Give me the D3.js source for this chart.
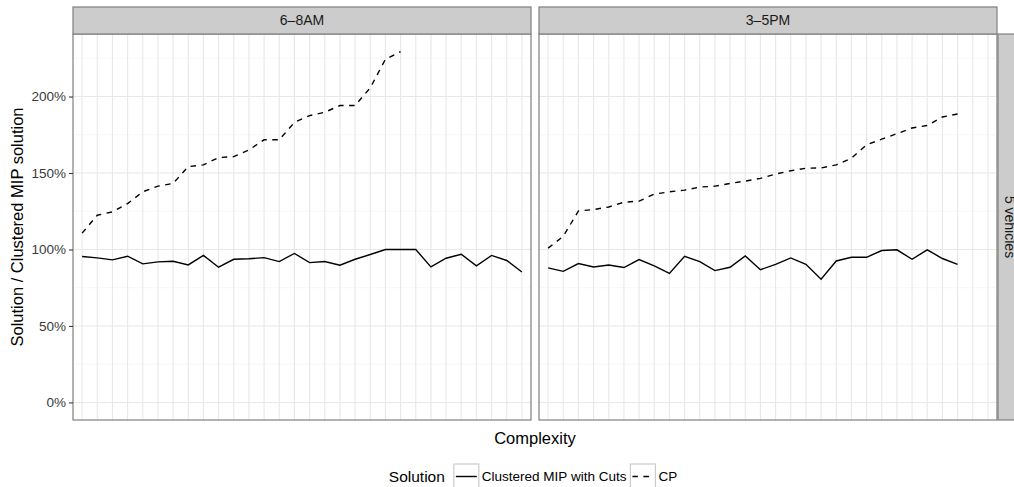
<!DOCTYPE html>
<html>
<head>
<meta charset="utf-8">
<script src="https://cdn.jsdelivr.net/npm/d3@7"></script>
<style>
body { margin: 0; background: #fff; }
svg { display: block; font-family: "Liberation Sans", Arial, sans-serif; }
</style>
</head>
<body>
<div id="chart"></div>
<script>
// complexity levels (x axis has no labels), one per grid column
var levels = [1, 2, 3, 4, 5, 6, 7, 8, 9, 10, 11, 12, 13, 14, 15, 16, 17, 18, 19, 20,
              21, 22, 23, 24, 25, 26, 27, 28, 29, 30];
var periods = ["6–8AM", "3–5PM"];
var rowLabel = "5 vehicles";
var solutions = ["Clustered MIP with Cuts", "CP"];

// ratio solution / clustered MIP solution
var mipAM = [0.954, 0.945, 0.932, 0.956, 0.906, 0.919, 0.923, 0.899, 0.961, 0.884,
             0.936, 0.939, 0.947, 0.921, 0.974, 0.914, 0.921, 0.897, 0.936, 0.967,
             1.0, 1.0, 1.0, 0.886, 0.943, 0.969, 0.893, 0.961, 0.928, 0.853];
var cpAM = [1.107, 1.224, 1.246, 1.30, 1.377, 1.414, 1.432, 1.542, 1.553, 1.601,
            1.607, 1.651, 1.717, 1.717, 1.831, 1.875, 1.897, 1.941, 1.941, 2.057,
            2.243, 2.294];
var mipPM = [0.88, 0.857, 0.908, 0.886, 0.899, 0.882, 0.934, 0.893, 0.844, 0.956,
             0.921, 0.862, 0.884, 0.958, 0.868, 0.903, 0.945, 0.903, 0.805, 0.925,
             0.949, 0.949, 0.993, 0.998, 0.936, 0.998, 0.941, 0.903];
var cpPM = [1.009, 1.086, 1.252, 1.261, 1.278, 1.309, 1.316, 1.362, 1.377, 1.388,
            1.408, 1.414, 1.432, 1.447, 1.465, 1.493, 1.515, 1.531, 1.533, 1.553,
            1.597, 1.684, 1.721, 1.757, 1.794, 1.811, 1.866, 1.886];

var yTicks = [0, 0.5, 1, 1.5, 2];
var yMinor = [0.25, 0.75, 1.25, 1.75, 2.25];

var w = 1014, h = 487;
var pTop = 34, pBottom = 420;
var panels = [
  {x0: 73, x1: 531, label: periods[0], mip: mipAM, cp: cpAM},
  {x0: 539, x1: 997, label: periods[1], mip: mipPM, cp: cpPM}
];
var border = "#7f7f7f";

var svg = d3.select("#chart").append("svg")
  .attr("width", w)
  .attr("height", h);

svg.append("rect").attr("width", w).attr("height", h).attr("fill", "#fff");

var yMax = d3.max([d3.max(mipAM), d3.max(cpAM), d3.max(mipPM), d3.max(cpPM)]);
var y = d3.scaleLinear()
  .domain([0 - yMax * 0.05, yMax * 1.05])
  .range([pBottom, pTop]);

panels.forEach(function(p, pi) {
  var x = d3.scalePoint().domain(levels).range([p.x0, p.x1]).padding(0.6);
  var g = svg.append("g");

  // grid
  g.selectAll(".minor").data(yMinor).enter().append("line")
    .attr("x1", p.x0).attr("x2", p.x1)
    .attr("y1", function(d) { return y(d); })
    .attr("y2", function(d) { return y(d); })
    .attr("stroke", "#f7f7f7").attr("stroke-width", 1);
  g.selectAll(".major").data(yTicks).enter().append("line")
    .attr("x1", p.x0).attr("x2", p.x1)
    .attr("y1", function(d) { return y(d); })
    .attr("y2", function(d) { return y(d); })
    .attr("stroke", "#e8e8e8").attr("stroke-width", 1.1);
  g.selectAll(".vgrid").data(levels).enter().append("line")
    .attr("x1", function(d) { return x(d); })
    .attr("x2", function(d) { return x(d); })
    .attr("y1", pTop).attr("y2", pBottom)
    .attr("stroke", "#e8e8e8").attr("stroke-width", 1.1);

  var line = d3.line()
    .x(function(d, i) { return x(levels[i]); })
    .y(function(d) { return y(d); });

  g.append("path").datum(p.mip)
    .attr("d", line)
    .attr("fill", "none").attr("stroke", "#000").attr("stroke-width", 1.4);
  g.append("path").datum(p.cp)
    .attr("d", line)
    .attr("fill", "none").attr("stroke", "#000").attr("stroke-width", 1.4)
    .attr("stroke-dasharray", "5.5,5.5");

  g.append("rect")
    .attr("x", p.x0).attr("y", pTop)
    .attr("width", p.x1 - p.x0).attr("height", pBottom - pTop)
    .attr("fill", "none").attr("stroke", border).attr("stroke-width", 1.2);

  // top strip
  g.append("rect")
    .attr("x", p.x0).attr("y", 7)
    .attr("width", p.x1 - p.x0).attr("height", pTop - 7)
    .attr("fill", "#cccccc").attr("stroke", border).attr("stroke-width", 1.2);
  g.append("text")
    .attr("x", (p.x0 + p.x1) / 2).attr("y", 20.5)
    .attr("dy", "0.35em")
    .attr("text-anchor", "middle")
    .attr("font-size", "14px")
    .attr("fill", "#1a1a1a")
    .text(p.label);
});

// right strip (runs past the canvas edge)
svg.append("rect")
  .attr("x", 998).attr("y", pTop)
  .attr("width", 27).attr("height", pBottom - pTop)
  .attr("fill", "#cccccc").attr("stroke", border).attr("stroke-width", 1.2);
svg.append("text")
  .attr("transform", "translate(1010," + ((pTop + pBottom) / 2) + ") rotate(90)")
  .attr("dy", "0.35em")
  .attr("text-anchor", "middle")
  .attr("font-size", "14px")
  .attr("fill", "#1a1a1a")
  .text(rowLabel);

// y axis
var yAxis = d3.axisLeft(y)
  .tickValues(yTicks)
  .tickSize(4)
  .tickPadding(3)
  .tickFormat(d3.format(".0%"));
var ax = svg.append("g")
  .attr("transform", "translate(" + panels[0].x0 + ",0)")
  .call(yAxis);
ax.select(".domain").remove();
ax.selectAll(".tick line").attr("stroke", "#3a3a3a").attr("stroke-width", 1.1);
ax.selectAll(".tick text")
  .attr("font-size", "13.5px")
  .attr("font-family", "Liberation Sans, Arial, sans-serif")
  .attr("fill", "#3a3a3a");

// axis titles
svg.append("text")
  .attr("transform", "translate(17," + ((pTop + pBottom) / 2) + ") rotate(-90)")
  .attr("dy", "0.35em")
  .attr("text-anchor", "middle")
  .attr("font-size", "16.5px")
  .attr("fill", "#000")
  .text("Solution / Clustered MIP solution");
svg.append("text")
  .attr("x", (panels[0].x0 + panels[1].x1) / 2).attr("y", 444)
  .attr("text-anchor", "middle")
  .attr("font-size", "16.5px")
  .attr("fill", "#000")
  .text("Complexity");

// legend
var lg = svg.append("g");
var ly = 476.5, keySize = 25;
var title = lg.append("text")
  .attr("y", ly).attr("dy", "0.35em")
  .attr("font-size", "15.5px")
  .text("Solution");
var cursor = title.node().getComputedTextLength() + 9;
solutions.forEach(function(s, i) {
  lg.append("rect")
    .attr("x", cursor).attr("y", ly - keySize / 2)
    .attr("width", keySize).attr("height", keySize)
    .attr("fill", "#fff").attr("stroke", "#cccccc").attr("stroke-width", 1.2);
  lg.append("line")
    .attr("x1", cursor + 2).attr("x2", cursor + keySize - 2)
    .attr("y1", ly).attr("y2", ly)
    .attr("stroke", "#000").attr("stroke-width", 1.4)
    .attr("stroke-dasharray", i === 1 ? "5.5,5.5" : null);
  cursor += keySize + 3;
  var t = lg.append("text")
    .attr("x", cursor).attr("y", ly).attr("dy", "0.35em")
    .attr("font-size", "13.5px")
    .text(s);
  cursor += t.node().getComputedTextLength() + 4;
});
lg.attr("transform", "translate(" + ((panels[0].x0 + panels[1].x1) / 2 - cursor / 2) + ",0)");
</script>
</body>
</html>
